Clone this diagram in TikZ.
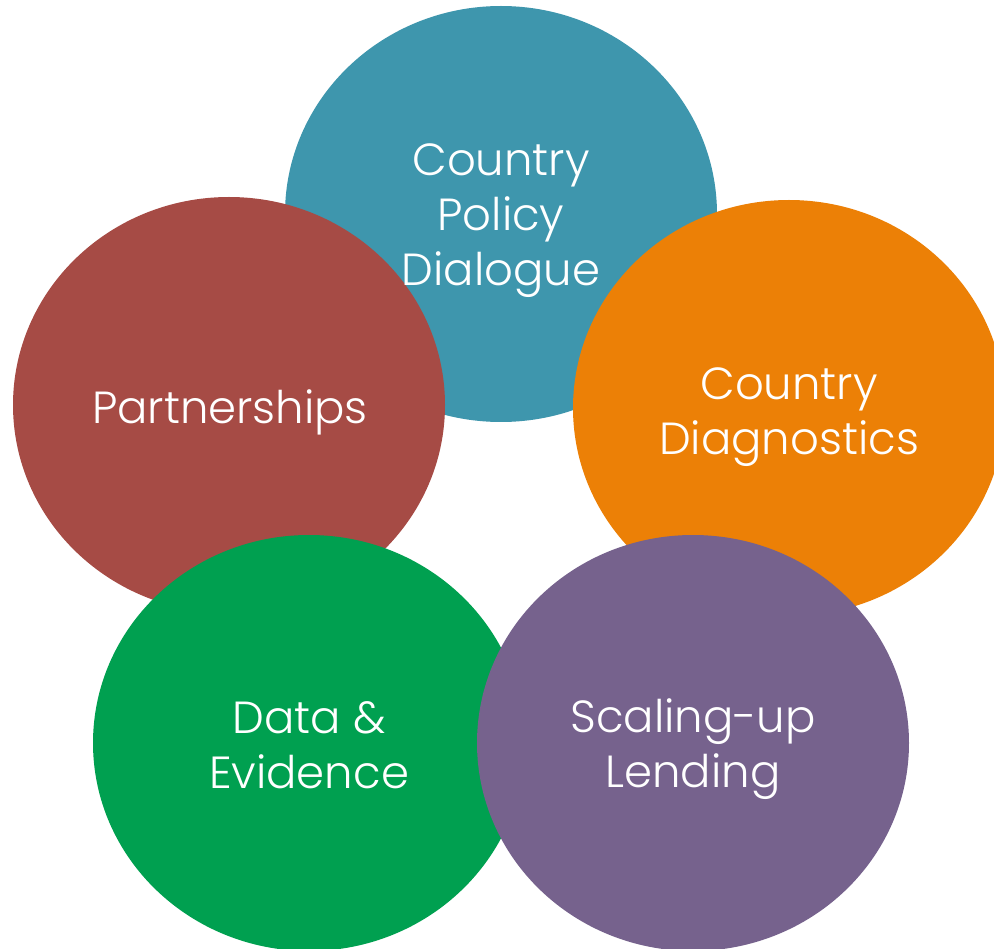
\documentclass[tikz,border=0pt]{standalone}
\usepackage{fontspec}
\setmainfont{Poppins}[UprightFont=* Light]
\usetikzlibrary{shapes.geometric}
\definecolor{cteal}{RGB}{62,150,173}
\definecolor{cbrown}{RGB}{166,75,69}
\definecolor{corange}{RGB}{236,128,6}
\definecolor{cgreen}{RGB}{0,160,80}
\definecolor{cpurple}{RGB}{118,98,141}
\tikzset{
  blob/.style={ellipse, minimum width=432pt, minimum height=416pt, inner sep=0pt, draw=none, fill=#1},
  label/.style={text=white, align=center, font=\fontsize{45}{55}\selectfont}
}
\begin{document}
\begin{tikzpicture}[x=1pt,y=-1pt]
\clip (0,0) rectangle (994,949);
\fill[white] (0,0) rectangle (994,949);
\node[blob=cteal] (policy) at (501,214) {};
\node[blob=cbrown] (partner) at (229,405) {};
\node[blob=corange] (diag) at (789,408) {};
\node[blob=cgreen] (data) at (309,743) {};
\node[blob=cpurple] (lend) at (693,743) {};
\node[label] (tpolicy) at (501,221) {Country\\Policy\\Dialogue};
\node[label] (tpartner) at (230,412) {Partnerships};
\node[label] (tdiag) at (789,417) {Country\\Diagnostics};
\node[label] (tdata) at (309,745) {Data \&\\Evidence};
\node[label] (tlend) at (693,749) {Scaling-up\\Lending};
\end{tikzpicture}
\end{document}
